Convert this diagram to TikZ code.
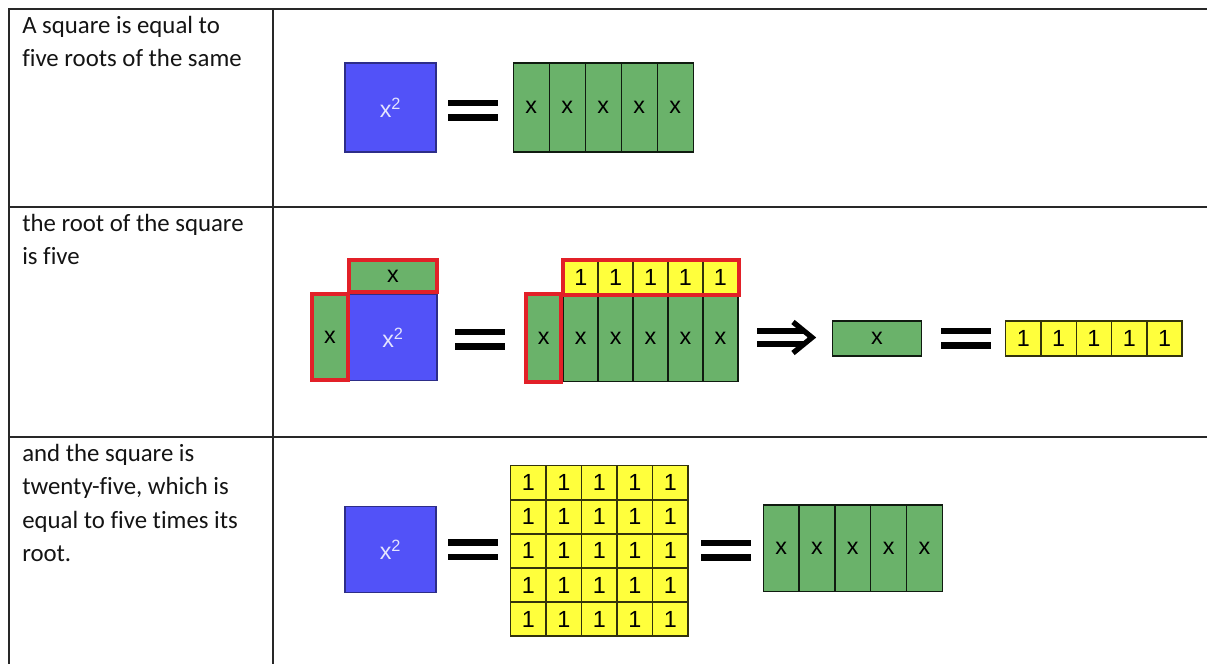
\documentclass[tikz,border=0pt]{standalone}
\usepackage{fontspec}
\setmainfont[Ligatures=NoCommon]{Carlito}
\newfontfamily\arialf{Liberation Sans}
\definecolor{sqblue}{RGB}{82,82,248}
\definecolor{cgreen}{RGB}{106,178,106}
\definecolor{cyellow}{RGB}{255,255,60}
\definecolor{cred}{RGB}{226,32,40}
\definecolor{rule}{RGB}{40,40,40}
\begin{document}
\begin{tikzpicture}[x=0.75pt,y=-0.75pt,
  sz/.style 2 args={minimum width=#1*0.75pt, minimum height=#2*0.75pt},
  cell/.style={rectangle, inner sep=0pt, line width=1.1pt, font=\arialf\fontsize{17.5}{19}\selectfont},
  gcell/.style={cell, fill=cgreen, draw=black!85!cgreen},
  ycell/.style={cell, fill=cyellow, draw=black!80!cyellow},
  bsq/.style={cell, fill=sqblue, draw=sqblue!55!black, line width=0.8pt, text=white!85!sqblue},
  rbox/.style={draw=cred, line width=3pt},
  eqs/.pic={\fill[black] (-25,-10.5) rectangle (25,-4); \fill[black] (-25,4) rectangle (25,10.5);},
  implies/.pic={\draw[line width=3.8pt] (0,-6.5) -- (46,-6.5) (0,6.5) -- (46,6.5);
                \draw[line width=4pt, miter limit=10] (36,-15.5) -- (55,0) -- (36,15.5);},
  rowtxt/.style={anchor=base west, align=left, inner sep=0pt, font=\fontsize{18.6}{25.1}\selectfont, text=black!92},
  tline/.style={draw=rule, line width=1.2pt}
]
\useasboundingbox (0,0) rectangle (1207,664);
\fill[white] (0,0) rectangle (1207,664);

% table rules
\draw[tline] (9,664) -- (9,9) -- (1207,9);
\draw[tline] (272.7,9) -- (272.7,664);
\draw[tline] (9,207) -- (1207,207);
\draw[tline] (9,437) -- (1207,437);

% texts (anchored at the baseline of their last line)
\node[rowtxt] (t1) at (22,66.5) {A square is equal to\\five roots of the same};
\node[rowtxt] (t2) at (22,264.5) {the root of the square\\is five};
\node[rowtxt] (t3) at (22,561.5) {and the square is\\twenty-five, which is\\equal to five times its\\root.};

% ---------- row 1
\node[bsq, sz={91}{89}] (s1) at (390.5,107.5) {x\textsuperscript{2}};
\pic at (472.5,110) {eqs};
\foreach \i in {1,...,5}{
  \node[gcell, sz={36}{89}] (a\i) at ({513.3+36*(\i-0.5)},107.5) {x};
}

% ---------- row 2
\node[bsq, sz={88}{86}] (s2) at (393,337.5) {x\textsuperscript{2}};
\node[gcell, rbox, sz={88.5}{32}] (top) at (393,276.3) {x};
\node[gcell, rbox, sz={36}{85.5}] (left) at (330,337) {x};
\pic at (479.5,339) {eqs};
\foreach \i in {1,...,5}{
  \node[gcell, sz={34.9}{86.7}] (b\i) at ({563.3+34.9*(\i-0.5)},338.3) {x};
  \node[ycell, sz={34.9}{33.5}] (c\i) at ({563.3+34.9*(\i-0.5)},277.5) {1};
}
\draw[rbox] (c1.north west) rectangle (c5.south east);
\node[gcell, rbox, sz={35}{87.7}] (bl) at (543.8,338.2) {x};
\pic at (757,337.5) {implies};
\node[gcell, sz={89.4}{35}] (g) at (877,338.5) {x};
\pic at (965.5,338) {eqs};
\foreach \i in {1,...,5}{
  \node[ycell, sz={35.3}{35}] (d\i) at ({1005.7+35.3*(\i-0.5)},338.5) {1};
}

% ---------- row 3
\node[bsq, sz={91}{86}] (s3) at (390.5,549.7) {x\textsuperscript{2}};
\pic at (473,549.5) {eqs};
\foreach \r in {1,...,5}{
  \foreach \i in {1,...,5}{
    \node[ycell, sz={35.5}{34.1}] (e\r\i) at ({510.7+35.5*(\i-0.5)},{465.7+34.1*(\r-0.5)}) {1};
  }
}
\pic at (726,550) {eqs};
\foreach \i in {1,...,5}{
  \node[gcell, sz={35.8}{86.7}] (f\i) at ({763.3+35.8*(\i-0.5)},548.3) {x};
}
\end{tikzpicture}
\end{document}
